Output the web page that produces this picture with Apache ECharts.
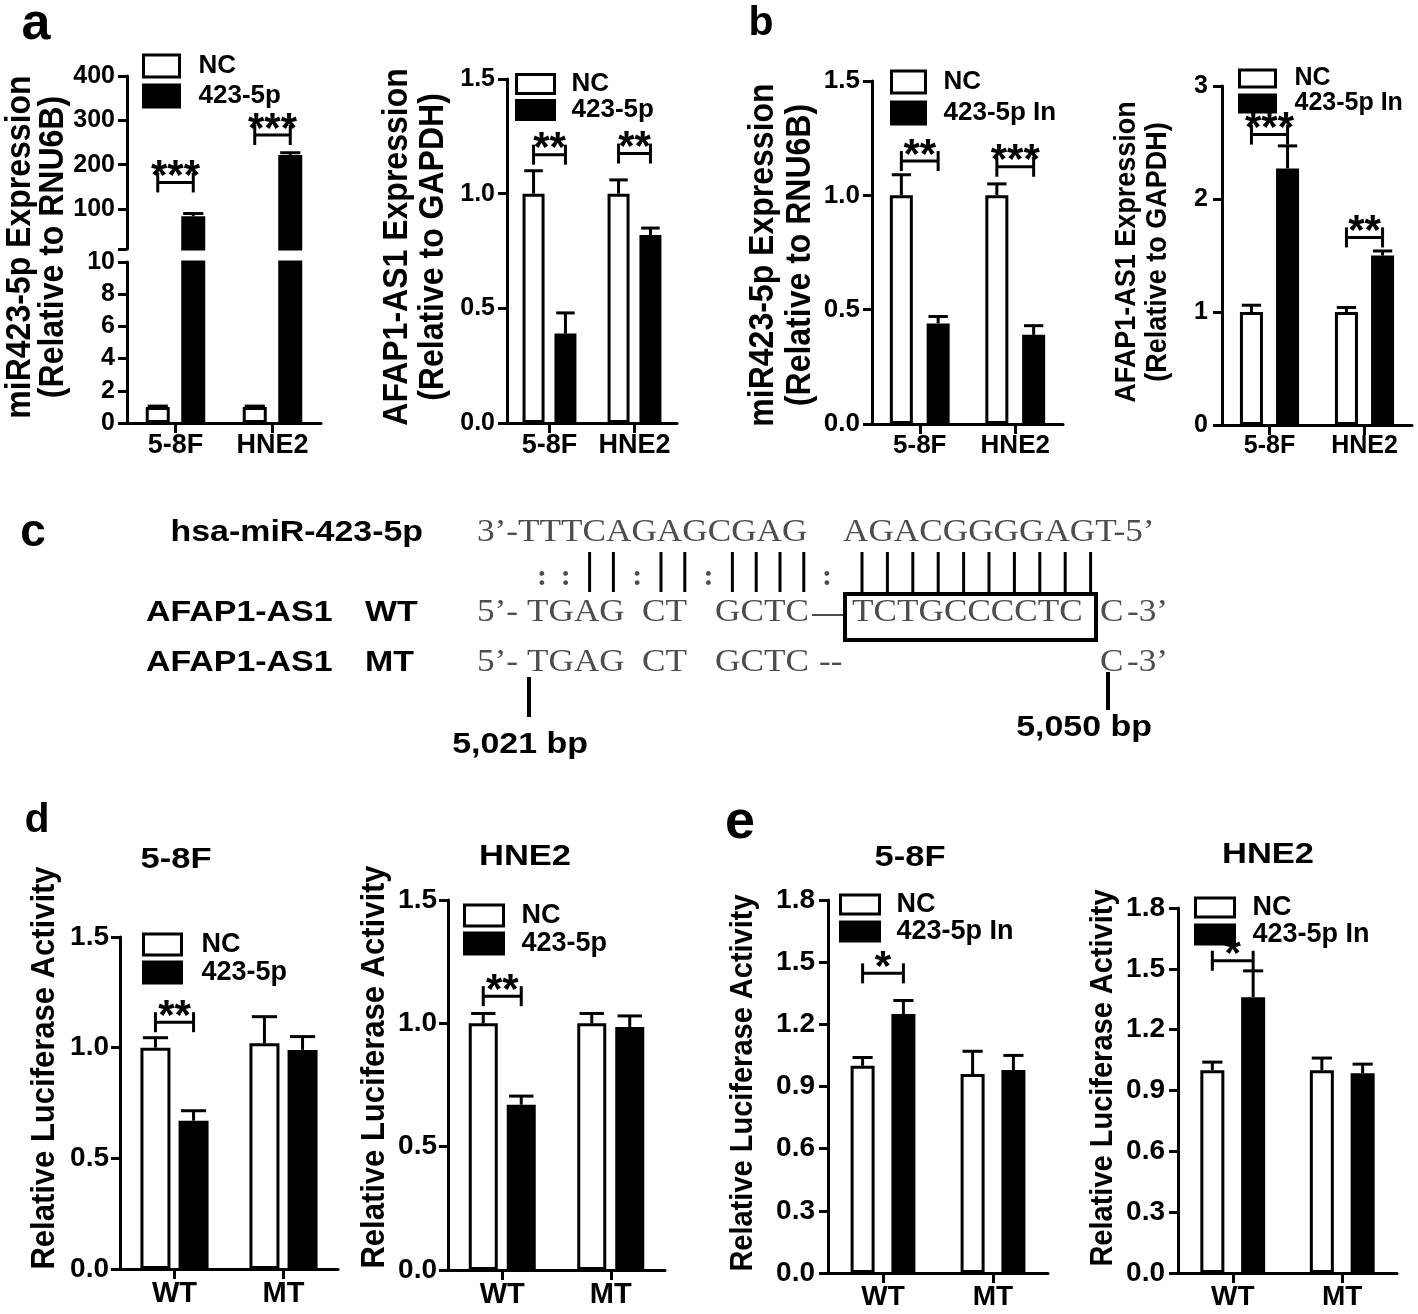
<!DOCTYPE html>
<html>
<head>
<meta charset="utf-8">
<script src="https://cdn.jsdelivr.net/npm/echarts@6/dist/echarts.min.js"></script>
<style>html,body{margin:0;padding:0;background:#fff}#chart{width:1418px;height:1314px}</style>
</head>
<body>
<div id="chart"></div>
<script>
// ---------------- DATA ----------------
const cellLines = ['5-8F', 'HNE2'];
const reporters = ['WT', 'MT'];

// a (left): miR423-5p expression, broken axis
const a1NC = [1.0, 1.0];
const a1NCErr = [0.05, 0.05];
const a1Mimic = [84, 222];
const a1MimicErr = [6, 5];
const a1Sig = [[0, 160, '***'], [1, 267, '***']];
const a1LowerTicks = [0, 2, 4, 6, 8, 10];
const a1UpperTicks = [100, 200, 300, 400];

// a (right): AFAP1-AS1 expression
const a2NC = [1.0, 1.0];
const a2NCErr = [0.10, 0.06];
const a2Mimic = [0.39, 0.82];
const a2MimicErr = [0.09, 0.03];
const a2Sig = [[0, 1.17, '**'], [1, 1.175, '**']];

// b (left): miR423-5p expression with inhibitor
const b1NC = [1.0, 1.0];
const b1NCErr = [0.09, 0.05];
const b1Inh = [0.44, 0.39];
const b1InhErr = [0.03, 0.04];
const b1Sig = [[0, 1.15, '**'], [1, 1.125, '***']];

// b (right): AFAP1-AS1 expression with inhibitor
const b2NC = [1.0, 1.0];
const b2NCErr = [0.06, 0.04];
const b2Inh = [2.27, 1.50];
const b2InhErr = [0.20, 0.04];
const b2Sig = [[0, 2.57, '***'], [1, 1.66, '**']];

// d: luciferase, mimic
const d1NC = [1.0, 1.02];
const d1NCErr = [0.045, 0.12];
const d1Mimic = [0.67, 0.99];
const d1MimicErr = [0.045, 0.06];
const d1Sig = [[0, 1.115, '**']];
const d2NC = [1.0, 1.0];
const d2NCErr = [0.04, 0.04];
const d2Mimic = [0.67, 0.985];
const d2MimicErr = [0.035, 0.045];
const d2Sig = [[0, 1.11, '**']];

// e: luciferase, inhibitor
const e1NC = [1.0, 0.96];
const e1NCErr = [0.04, 0.11];
const e1Inh = [1.25, 0.98];
const e1InhErr = [0.065, 0.07];
const e1Sig = [[0, 1.446, '*']];
const e2NC = [1.0, 1.0];
const e2NCErr = [0.04, 0.06];
const e2Inh = [1.36, 0.985];
const e2InhErr = [0.13, 0.045];
const e2Sig = [[0, 1.54, '*']];

// c: sequence alignment
const mirLabel = 'hsa-miR-423-5p';
const mirSeq = ['3’-TTTCAGAGCGAG', 'AGACGGGGAGT-5’'];
const pairSeed = '::||:||:||||';
const pairSite = ':||||||||||';
const wtLabel = ['AFAP1-AS1', 'WT'];
const mtLabel = ['AFAP1-AS1', 'MT'];
const wtSeq = ['5’-', 'TGAG', 'CT', 'GCTC', 'TCTGCCCCTC', 'C', '-3’'];
const mtSeq = ['5’-', 'TGAG', 'CT', 'GCTC', '--', 'C', '-3’'];
const sitePositions = ['5,021 bp', '5,050 bp'];

// ---------------- BUILD ----------------
const SANS = '"Liberation Sans", Arial, Helvetica, sans-serif';
const SERIF = '"Liberation Serif", "Times New Roman", serif';
const grids = [], xAxes = [], yAxes = [], series = [], legends = [], graphics = [];

function errRender(w, g) {
  return function (params, api) {
    const ci = api.value(0), si = api.value(1), v = api.value(2), e = api.value(3);
    const p = api.coord([ci, v]);
    const off = (si === 0 ? -1 : 1) * w * (1 + g) / 2;
    const x = p[0] + off;
    const top = api.coord([ci, v + e])[1];
    const cap = w * 0.42;
    const ls = {stroke: '#000', lineWidth: 3};
    return {type: 'group', children: [
      {type: 'line', shape: {x1: x, y1: p[1], x2: x, y2: top}, style: ls},
      {type: 'line', shape: {x1: x - cap, y1: top, x2: x + cap, y2: top}, style: ls}
    ]};
  };
}
function sigRender(w, g) {
  return function (params, api) {
    const ci = api.value(0), v = api.value(1), n = api.value(2);
    const p = api.coord([ci, v]);
    const half = w * (1 + g) / 2;
    const x1 = p[0] - half, x2 = p[0] + half, y = p[1];
    const ls = {stroke: '#000', lineWidth: 3};
    return {type: 'group', children: [
      {type: 'line', shape: {x1: x1, y1: y, x2: x2, y2: y}, style: ls},
      {type: 'line', shape: {x1: x1, y1: y - 10, x2: x1, y2: y + 10}, style: ls},
      {type: 'line', shape: {x1: x2, y1: y - 10, x2: x2, y2: y + 10}, style: ls},
      {type: 'text', x: (x1 + x2) / 2, y: y - 5, style: {text: '*'.repeat(n), textAlign: 'center', textVerticalAlign: 'middle', font: 'bold 42px ' + SANS, fill: '#000'}}
    ]};
  };
}

function addPanel(c) {
  const gi = grids.length;
  grids.push({left: c.left, top: c.top, width: c.right - c.left, height: c.bottom - c.top, containLabel: false, outerBoundsMode: 'none'});
  xAxes.push({
    type: 'category', gridIndex: gi, data: c.cats, show: c.showX !== false,
    axisLine: {show: true, lineStyle: {color: '#000', width: 3}},
    axisTick: {show: true, alignWithLabel: true, length: 10, lineStyle: {color: '#000', width: 3}},
    axisLabel: {show: true, interval: 0, color: '#000', fontFamily: SANS, fontWeight: 'bold', fontSize: c.catFont, margin: c.catMargin},
    splitLine: {show: false}
  });
  const y = {
    type: 'value', gridIndex: gi, min: c.min, max: c.max,
    axisLine: {show: true, lineStyle: {color: '#000', width: 3}},
    axisTick: {show: true, inside: false, length: 9, lineStyle: {color: '#000', width: 3}},
    axisLabel: {show: true, color: '#000', fontFamily: SANS, fontWeight: 'bold', fontSize: c.tickFont, margin: c.tickMargin,
      formatter: function (v) { return v.toFixed(c.dec); }},
    splitLine: {show: false}
  };
  if (c.interval != null) y.interval = c.interval;
  if (c.labelValues) { y.axisLabel.customValues = c.labelValues; y.axisTick.customValues = c.tickValues; }
  yAxes.push(y);
  const base = {xAxisIndex: gi, yAxisIndex: gi, silent: true, animation: false};
  series.push(Object.assign({}, base, {type: 'bar', name: 'NC', data: c.nc, barWidth: c.w, barGap: (c.g * 100) + '%', clip: true,
    itemStyle: {color: '#fff', borderColor: '#000', borderWidth: 3}}));
  series.push(Object.assign({}, base, {type: 'bar', name: c.trtName, data: c.trt, barWidth: c.w, barGap: (c.g * 100) + '%', clip: true,
    itemStyle: {color: '#000', borderColor: '#000', borderWidth: 3}}));
  const errData = [];
  if (c.ncErr) c.nc.forEach((v, i) => errData.push([i, 0, v, c.ncErr[i]]));
  if (c.trtErr) c.trt.forEach((v, i) => errData.push([i, 1, v, c.trtErr[i]]));
  series.push(Object.assign({}, base, {type: 'custom', name: 'err', clip: true, data: errData, encode: {x: 0, y: 2}, renderItem: errRender(c.w, c.g), z: 3}));
  if (c.sig) {
    series.push(Object.assign({}, base, {type: 'custom', name: 'sig', data: c.sig.map(s => [s[0], s[1], s[2].length]), encode: {x: 0, y: 1}, renderItem: sigRender(c.w, c.g), z: 4}));
  }
  if (c.legend) {
    const L = c.legend;
    legends.push({
      orient: 'vertical', left: L.left, top: L.top, padding: 0, itemWidth: L.iw, itemHeight: L.ih, itemGap: L.gap,
      selectedMode: false, icon: 'rect',
      textStyle: {color: '#000', fontFamily: SANS, fontWeight: 'bold', fontSize: L.font, padding: [0, 0, 0, L.pad]},
      data: [
        {name: 'NC', itemStyle: {color: '#fff', borderColor: '#000', borderWidth: 3}},
        {name: c.trtName, itemStyle: {color: '#000', borderColor: '#000', borderWidth: 3}}
      ]
    });
  }
}

// a1 lower (0-10)
addPanel({left: 127, right: 321, top: 262, bottom: 423, cats: cellLines, min: 0, max: 10, interval: 2, dec: 0,
  tickFont: 25, tickMargin: 12, catFont: 27, catMargin: 9, w: 24, g: 0.48,
  nc: a1NC, ncErr: a1NCErr, trt: a1Mimic, trtName: '423-5p'});
// a1 upper (10-400)
addPanel({left: 127, right: 321, top: 76, bottom: 249, cats: cellLines, showX: false, min: 10, max: 400, dec: 0,
  labelValues: a1UpperTicks, tickValues: [10].concat(a1UpperTicks),
  tickFont: 25, tickMargin: 12, catFont: 27, catMargin: 9, w: 24, g: 0.48,
  nc: a1NC, trt: a1Mimic, trtErr: a1MimicErr, trtName: '423-5p', sig: a1Sig,
  legend: {left: 142, top: 53, iw: 36, ih: 22, gap: 4, font: 26, pad: 14}});
// a2
addPanel({left: 507, right: 677, top: 79, bottom: 423, cats: cellLines, min: 0, max: 1.5, interval: 0.5, dec: 1,
  tickFont: 25, tickMargin: 12, catFont: 27, catMargin: 9, w: 22, g: 0.45,
  nc: a2NC, ncErr: a2NCErr, trt: a2Mimic, trtErr: a2MimicErr, trtName: '423-5p', sig: a2Sig,
  legend: {left: 515, top: 71, iw: 38, ih: 19, gap: 0, font: 26, pad: 12}});
// b1
addPanel({left: 872, right: 1063, top: 81, bottom: 424, cats: cellLines, min: 0, max: 1.5, interval: 0.5, dec: 1,
  tickFont: 26, tickMargin: 12, catFont: 26, catMargin: 9, w: 23, g: 0.6,
  nc: b1NC, ncErr: b1NCErr, trt: b1Inh, trtErr: b1InhErr, trtName: '423-5p In', sig: b1Sig,
  legend: {left: 890, top: 69, iw: 34, ih: 22, gap: 5, font: 26, pad: 13}});
// b2
addPanel({left: 1222, right: 1412, top: 86, bottom: 425, cats: cellLines, min: 0, max: 3, interval: 1, dec: 0,
  tickFont: 25, tickMargin: 14, catFont: 25, catMargin: 9, w: 23, g: 0.57,
  nc: b2NC, ncErr: b2NCErr, trt: b2Inh, trtErr: b2InhErr, trtName: '423-5p In', sig: b2Sig,
  legend: {left: 1238, top: 66, iw: 36, ih: 17, gap: 0, font: 25, pad: 14}});
// d1
addPanel({left: 120, right: 338, top: 937, bottom: 1269, cats: reporters, min: 0, max: 1.5, interval: 0.5, dec: 1,
  tickFont: 28, tickMargin: 11, catFont: 29, catMargin: 10, w: 30, g: 0.27,
  nc: d1NC, ncErr: d1NCErr, trt: d1Mimic, trtErr: d1MimicErr, trtName: '423-5p', sig: d1Sig,
  legend: {left: 142, top: 931, iw: 38, ih: 21, gap: 1, font: 27, pad: 15}});
// d2
addPanel({left: 448, right: 665, top: 900, bottom: 1270, cats: reporters, min: 0, max: 1.5, interval: 0.5, dec: 1,
  tickFont: 28, tickMargin: 11, catFont: 29, catMargin: 10, w: 29, g: 0.31,
  nc: d2NC, ncErr: d2NCErr, trt: d2Mimic, trtErr: d2MimicErr, trtName: '423-5p', sig: d2Sig,
  legend: {left: 463, top: 902, iw: 39, ih: 21, gap: 1, font: 27, pad: 13}});
// e1
addPanel({left: 828, right: 1048, top: 900, bottom: 1273, cats: reporters, min: 0, max: 1.8, interval: 0.3, dec: 1,
  tickFont: 28, tickMargin: 13, catFont: 28, catMargin: 10, w: 24, g: 0.7,
  nc: e1NC, ncErr: e1NCErr, trt: e1Inh, trtErr: e1InhErr, trtName: '423-5p In', sig: e1Sig,
  legend: {left: 839, top: 891, iw: 39, ih: 19, gap: 0, font: 27, pad: 12}});
// e2
addPanel({left: 1178, right: 1397, top: 908, bottom: 1273, cats: reporters, min: 0, max: 1.8, interval: 0.3, dec: 1,
  tickFont: 28, tickMargin: 13, catFont: 28, catMargin: 10, w: 24, g: 0.7,
  nc: e2NC, ncErr: e2NCErr, trt: e2Inh, trtErr: e2InhErr, trtName: '423-5p In', sig: e2Sig,
  legend: {left: 1194, top: 894, iw: 39, ih: 19, gap: 0, font: 27, pad: 13}});

// ---------- text helpers ----------
function txt(t, x, y, size, opts) {
  opts = opts || {};
  const el = {type: 'text', x: x, y: y, silent: true, style: {
    text: t, x: 0, y: 0, fill: opts.color || '#000',
    font: (opts.weight || 'bold') + ' ' + size + 'px ' + (opts.family || SANS),
    align: opts.align || 'center', verticalAlign: opts.valign || 'middle'}};
  if (opts.rotate) el.rotation = opts.rotate;
  if (opts.sx) el.scaleX = opts.sx;
  if (opts.sy) el.scaleY = opts.sy;
  graphics.push(el);
}
const R90 = Math.PI / 2;
const yt = {rotate: R90, sy: 1.1};
// panel letters
txt('a', 36, 25, 52); txt('b', 761, 24, 41); txt('c', 33, 533, 46); txt('d', 37, 821, 41); txt('e', 740, 823, 54);
// y titles
txt('miR423-5p Expression', 20, 247, 32, yt);
txt('(Relative to RNU6B)', 53, 247, 32, yt);
txt('AFAP1-AS1 Expression', 397, 247, 32, yt);
txt('(Relative to GAPDH)', 433, 247, 32, yt);
txt('miR423-5p Expression', 763, 255, 32, yt);
txt('(Relative to RNU6B)', 800, 255, 32, yt);
txt('AFAP1-AS1 Expression', 1127, 252, 27, yt);
txt('(Relative to GAPDH)', 1158, 252, 27, yt);
txt('Relative Luciferase Activity', 45, 1068, 31, yt);
txt('Relative Luciferase Activity', 375, 1067, 31, yt);
txt('Relative Luciferase Activity', 743, 1083, 29, yt);
txt('Relative Luciferase Activity', 1103, 1078, 29, yt);
// panel titles d/e
txt(cellLines[0], 176, 860, 30, {sx: 1.15});
txt(cellLines[1], 525, 857, 30, {sx: 1.15});
txt(cellLines[0], 910, 858, 30, {sx: 1.15});
txt(cellLines[1], 1268, 855, 30, {sx: 1.15});

// ---------- panel c ----------
const GRAY = '#4d4d4d';
const seqOpt = {family: SERIF, weight: 'normal', color: GRAY, align: 'left', sx: 1.1};
const ROW1 = 533, ROW2 = 613, ROW3 = 663;
txt(mirLabel, 423, ROW1, 30, {align: 'right', sx: 1.13});
txt(mirSeq[0], 477, ROW1, 32, seqOpt);
txt(mirSeq[1], 843, ROW1, 32, seqOpt);
txt(wtLabel[0], 146, ROW2, 30, {align: 'left', sx: 1.13});
txt(wtLabel[1], 365, ROW2, 30, {align: 'left', sx: 1.13});
txt(mtLabel[0], 146, ROW3, 30, {align: 'left', sx: 1.13});
txt(mtLabel[1], 365, ROW3, 30, {align: 'left', sx: 1.13});
const segX = [477, 527, 642, 715, 852, 1100, 1127];
wtSeq.forEach((s, i) => txt(s, segX[i], ROW2, 32, seqOpt));
mtSeq.forEach((s, i) => txt(s, i === 4 ? 819 : segX[i], ROW3, 32, seqOpt));
// dash and box on WT row
graphics.push({type: 'line', silent: true, shape: {x1: 812, y1: 615, x2: 843, y2: 615}, style: {stroke: GRAY, lineWidth: 2}});
graphics.push({type: 'rect', silent: true, shape: {x: 845, y: 594, width: 251, height: 46}, style: {fill: 'none', stroke: '#000', lineWidth: 4}});
// pairing marks
function pairMark(ch, x, yTop, yBot) {
  if (ch === '|') {
    graphics.push({type: 'line', silent: true, shape: {x1: x, y1: yTop, x2: x, y2: yBot}, style: {stroke: '#000', lineWidth: 3}});
  } else {
    txt(':', x, 577, 30, {family: SERIF, weight: 'bold', color: GRAY});
  }
}
pairSeed.split('').forEach((ch, i) => pairMark(ch, 542 + 23.8 * i, 552, 592));
pairSite.split('').forEach((ch, i) => pairMark(ch, i === 0 ? 827 : 862 + 25.4 * (i - 1), 552, 594));
// site position markers
graphics.push({type: 'line', silent: true, shape: {x1: 529, y1: 677, x2: 529, y2: 717}, style: {stroke: '#000', lineWidth: 4}});
graphics.push({type: 'line', silent: true, shape: {x1: 1108, y1: 672, x2: 1108, y2: 710}, style: {stroke: '#000', lineWidth: 4}});
txt(sitePositions[0], 520, 745, 30, {sx: 1.13});
txt(sitePositions[1], 1084, 728, 30, {sx: 1.13});

const chart = echarts.init(document.getElementById('chart'), null, {renderer: 'canvas'});
chart.setOption({
  animation: false,
  backgroundColor: '#fff',
  grid: grids, xAxis: xAxes, yAxis: yAxes, series: series, legend: legends,
  graphic: graphics
});
</script>
</body>
</html>
